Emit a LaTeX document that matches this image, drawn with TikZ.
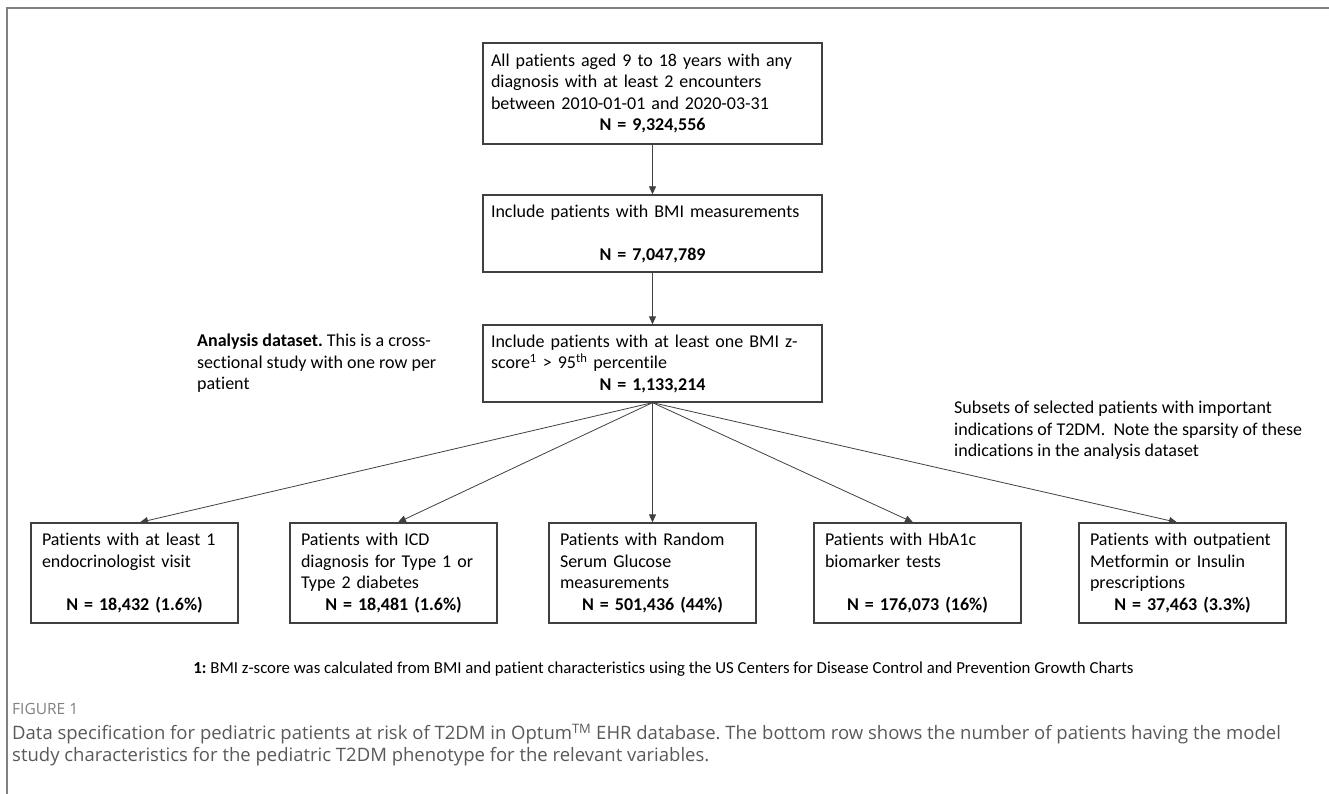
\documentclass[tikz,border=0pt]{standalone}
\usepackage{fontspec}
\setmainfont{Carlito}[Ligatures=CommonOff]
\newfontfamily\legende{Open Sans}
\usetikzlibrary{arrows.meta}
\frenchspacing
\newcommand{\Neff}[1]{\par\centering\textbf{#1}\par}

\begin{document}
\begin{tikzpicture}[x=1pt, y=-1pt,
    boite/.style={draw=black!75, line width=1.3pt, align=left, inner ysep=0pt,
                  font=\fontsize{18}{21.5}\selectfont},
    haut/.style={boite, inner xsep=8pt, text width=323pt},
    bas/.style={boite, inner xsep=11pt, text width=185pt, minimum height=100pt},
    note/.style={align=left, inner sep=0pt, font=\fontsize{18}{21.5}\selectfont},
    fleche/.style={-{Triangle[length=8pt,width=7pt]}, draw=black!75, line width=0.8pt}]
    \useasboundingbox (0,0) rectangle (1329,794);

    % Cadre
    \draw[gray, line width=2pt] (7,794) -- (7,8) -- (1329,8);

    % Boites du haut
    \node[haut, minimum height=101pt] (n1) at (652.5,93.5)
        {All patients aged 9 to 18 years with any\\diagnosis with at least 2 encounters\\between 2010-01-01 and 2020-03-31\Neff{N = 9,324,556}};
    \node[haut, minimum height=77pt] (n2) at (652.5,233.5)
        {Include patients with BMI measurements\\\mbox{}\Neff{N = 7,047,789}};
    \node[haut, minimum height=77pt] (n3) at (652.5,363.5)
        {Include patients with at least one BMI z-\\score\textsuperscript{1} > 95\textsuperscript{th} percentile\Neff{N = 1,133,214}};

    % Boites du bas
    \node[bas] (b1) at (134.5,573)
        {Patients with at least 1\\endocrinologist visit\\\mbox{}\Neff{N = 18,432 (1.6\%)}};
    \node[bas] (b2) at (393.5,573)
        {Patients with ICD\\diagnosis for Type 1 or\\Type 2 diabetes\Neff{N = 18,481 (1.6\%)}};
    \node[bas] (b3) at (652.5,573)
        {Patients with Random\\Serum Glucose\\measurements\Neff{N = 501,436 (44\%)}};
    \node[bas] (b4) at (917.5,573)
        {Patients with HbA1c\\biomarker tests\\\mbox{}\Neff{N = 176,073 (16\%)}};
    \node[bas] (b5) at (1182.5,573)
        {Patients with outpatient\\Metformin or Insulin\\prescriptions\Neff{N = 37,463 (3.3\%)}};

    % Fleches
    \draw[fleche] (n1) -- (n2);
    \draw[fleche] (n2) -- (n3);
    \foreach \b/\dx in {b1/5.5,b2/4.5,b3/0,b4/-4.5,b5/-5.5}
        \draw[fleche] (n3.south) -- ([xshift=\dx]\b.north);

    % Commentaires
    \node[note, anchor=west] (analyse) at (197,363.5)
        {\textbf{Analysis dataset.} This is a cross-\\sectional study with one row per\\patient};
    \node[note, anchor=west] (sousens) at (954,430.5)
        {Subsets of selected patients with important\\indications of T2DM.\ \ Note the sparsity of these\\indications in the analysis dataset};

    % Renvoi
    \node[font=\fontsize{16.8}{19}\selectfont] (renvoi) at (663.5,669)
        {\textbf{1:} BMI z-score was calculated from BMI and patient characteristics using the US Centers for Disease Control and Prevention Growth Charts};

    % Legende
    \node[anchor=west, inner sep=0pt, text=black!50, font=\legende\fontsize{15.5}{18}\selectfont] (fig) at (12,709) {FIGURE 1};
    \node[anchor=west, align=left, inner sep=0pt, text=black!65, font=\legende\fontsize{18.5}{22.5}\selectfont] (texte) at (12,745)
        {Data specification for pediatric patients at risk of T2DM in Optum\textsuperscript{TM} EHR database. The bottom row shows the number of patients having the model\\study characteristics for the pediatric T2DM phenotype for the relevant variables.};
\end{tikzpicture}
\end{document}
